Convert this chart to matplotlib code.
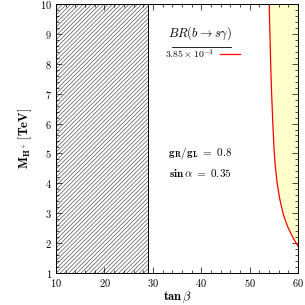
import matplotlib
matplotlib.use("Agg")
import matplotlib.pyplot as plt
from matplotlib.ticker import MultipleLocator

plt.rcParams['mathtext.fontset'] = 'cm'
plt.rcParams['font.family'] = 'serif'
plt.rcParams['font.serif'] = ['cmr10']
plt.rcParams['axes.formatter.use_mathtext'] = True
plt.rcParams['hatch.linewidth'] = 0.45
plt.rcParams['hatch.color'] = '#444444'

# excluded region (hatched) in tan(beta)
tanb_excl = [10, 29]

# BR(b -> s gamma) = 3.85e-4 contour
mh_curve = [10.0, 9.0, 8.0, 7.0, 6.0, 5.0, 4.5, 4.0, 3.5, 3.0, 2.75, 2.5, 2.25, 2.0, 1.9]
tanb_curve = [54.05, 54.2, 54.35, 54.55, 54.8, 55.1, 55.35, 55.7, 56.2, 56.9, 57.4, 58.0, 58.75, 59.6, 60.0]

fig = plt.figure(figsize=(3.05, 3.05), dpi=100)
ax = fig.add_axes([0.184, 0.105, 0.793, 0.882])

# hatched region
ax.fill_betweenx([1, 10], tanb_excl[0], tanb_excl[1], facecolor='white',
                 edgecolor='#444444', hatch='////////', linewidth=0)
ax.axvline(tanb_excl[1], color='black', lw=0.7)

# allowed region (yellow) and contour
ax.fill_betweenx(mh_curve, tanb_curve, 60, color='#ffffcc', lw=0)
ax.plot(tanb_curve, mh_curve, color='red', lw=0.9)

# legend-like text
ax.text(39.75, 9.03, r'$BR(b\rightarrow s\gamma)$', ha='center', va='center', fontsize=9)
ax.plot([34.0, 46.2], [8.55, 8.55], color='black', lw=0.6)
ax.text(37.5, 8.33, r'$\mathbf{3.85}\times\mathbf{10^{-4}}$', ha='center', va='center', fontsize=7)
ax.plot([43.9, 48.0], [8.33, 8.33], color='red', lw=0.9)

ax.text(39.75, 5.0, r'$\mathbf{g_R/g_L}\ \mathbf{=}\ \mathbf{0.8}$', ha='center', va='center', fontsize=8)
ax.text(39.75, 4.33, r'$\mathbf{sin}\,\alpha\ \mathbf{=}\ \mathbf{0.35}$', ha='center', va='center', fontsize=8)

ax.set_xlim(10, 60)
ax.set_ylim(1, 10)
ax.xaxis.set_major_locator(MultipleLocator(10))
ax.xaxis.set_minor_locator(MultipleLocator(2))
ax.yaxis.set_major_locator(MultipleLocator(1))
ax.yaxis.set_minor_locator(MultipleLocator(0.2))
ax.tick_params(which='both', direction='in', top=True, right=True, labelsize=7.5, width=0.5)
ax.tick_params(which='major', length=4, pad=3)
ax.tick_params(which='minor', length=2)
for s in ax.spines.values():
    s.set_linewidth(0.7)

ax.set_xlabel(r'$\mathbf{tan}\,\beta$', fontsize=9, labelpad=0)
ax.set_ylabel(r'$\mathbf{M_{H^+}\,[TeV]}$', fontsize=9, labelpad=4)

fig.savefig('out.png', dpi=100)
